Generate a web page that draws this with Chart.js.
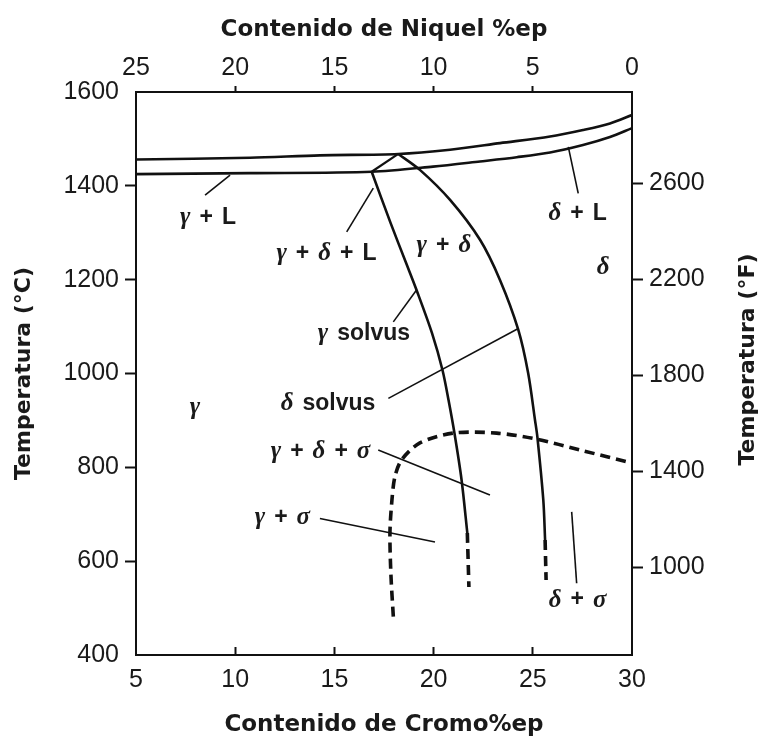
<!DOCTYPE html>
<html lang="es">
<head>
<meta charset="utf-8">
<title>Diagrama Fe-Cr-Ni</title>
<script src="https://cdn.jsdelivr.net/npm/chart.js@4.4.1/dist/chart.umd.min.js"></script>
<style>
  html, body { margin: 0; padding: 0; background: #fff; }
  #wrap { width: 765px; height: 742px; }
</style>
</head>
<body>
<div id="wrap"><canvas id="chart" width="765" height="742"></canvas></div>
<script>
// ====== EJES ======
const crTicks = [5, 10, 15, 20, 25, 30];
const niTicks = [25, 20, 15, 10, 5, 0];
const tempCTicks = [400, 600, 800, 1000, 1200, 1400, 1600];
const tempFTicks = [1000, 1400, 1800, 2200, 2600];
const tempFRange = [634, 2982];

// ====== CURVAS (%Cr, ºC) ======
const liquidusCr = [5, 10.75, 14.27, 18.22, 20.83, 23.35, 25.87, 27.53, 28.89, 30];
const liquidusT = [1456, 1460, 1465, 1468, 1477, 1491, 1505, 1519, 1533, 1551];

const solidusCr = [5, 10.75, 16.88, 19.97, 22.34, 24.19, 25.87, 27.53, 28.89, 30];
const solidusT = [1425, 1427, 1430, 1441, 1452, 1461, 1471, 1487, 1504, 1523];

// tramo entre los dos vértices del triángulo γ + δ + L
const tieCr = [16.88, 18.22];
const tieT = [1430, 1468];

const gammaSolvusCr = [16.88, 17.83, 18.61, 19.14, 19.92, 20.45, 20.75, 21.05, 21.41, 21.70];
const gammaSolvusT = [1430, 1321, 1236, 1178, 1086, 1007, 944, 873, 773, 660];
const gammaSolvusDashCr = [21.70, 21.78];
const gammaSolvusDashT = [660, 545];

const deltaSolvusCr = [18.22, 19.31, 20.83, 22.34, 23.35, 24.27, 24.77, 25.11, 25.23, 25.53, 25.62];
const deltaSolvusT = [1468, 1434, 1370, 1285, 1199, 1093, 1000, 901, 865, 730, 645];
const deltaSolvusDashCr = [25.62, 25.67];
const deltaSolvusDashT = [645, 560];

const sigmaCr = [17.97, 17.85, 17.80, 17.90, 18.05, 18.39, 19.31, 20.98, 23.18, 25.20, 27.38, 30];
const sigmaT = [482, 570, 660, 730, 780, 816, 852, 873, 873, 860, 837, 809];

// líneas guía de las etiquetas: [Cr1, Cr2], [T1, T2]
const leaderCr = [
  [8.48, 9.74], [15.62, 16.96], [17.97, 19.14], [17.72, 24.27],
  [27.29, 26.79], [17.21, 22.84], [14.27, 20.07], [26.96, 27.21]
];
const leaderT = [
  [1380, 1423], [1302, 1395], [1110, 1178], [947, 1096],
  [1384, 1483], [837, 741], [691, 641], [705, 553]
];

// ====== ETIQUETAS DE FASES ======
const phaseText = ['γ + L', 'γ + δ + L', 'γ + δ', 'δ + L', 'δ', 'γ solvus', 'δ solvus', 'γ', 'γ + δ + σ', 'γ + σ', 'δ + σ'];
const phaseCr = [8.63, 14.60, 20.52, 27.26, 28.54, 16.49, 14.68, 7.97, 14.30, 12.38, 27.26];
const phaseT = [1332, 1256, 1272, 1341, 1225, 1085, 936, 928, 834, 692, 517];

// ====== ESTILO ======
const INK = '#111';
const TEXT = '#1a1a1a';
const greekFont = 'italic bold 25px "Liberation Serif"';
const sansFont = 'bold 23px "Liberation Sans"';
const tickFont = { family: 'Liberation Sans', size: 25 };
const titleFont = { family: 'DejaVu Sans', size: 23, weight: 'bold' };
const sideTitleFont = { family: 'DejaVu Sans', size: 22, weight: 'bold' };

function pts(xs, ys) {
  return xs.map((x, i) => ({ x, y: ys[i] }));
}

function curve(xs, ys, extra = {}) {
  return Object.assign({
    data: pts(xs, ys),
    showLine: true,
    borderColor: INK,
    borderWidth: 2.6,
    pointRadius: 0,
    tension: 0.3,
    fill: false,
  }, extra);
}

const dashed = { borderDash: [10, 6], borderWidth: 3.6 };

const datasets = [
  curve(liquidusCr, liquidusT),
  curve(solidusCr, solidusT),
  curve(tieCr, tieT, { borderWidth: 2.2, tension: 0 }),
  curve(gammaSolvusCr, gammaSolvusT),
  curve(gammaSolvusDashCr, gammaSolvusDashT, dashed),
  curve(deltaSolvusCr, deltaSolvusT),
  curve(deltaSolvusDashCr, deltaSolvusDashT, dashed),
  curve(sigmaCr, sigmaT, dashed),
];
leaderCr.forEach((xs, i) => {
  datasets.push(curve(xs, leaderT[i], { borderWidth: 1.6, tension: 0 }));
});

// oculta la marca de tick en las esquinas del marco
function cornerTick(edges) {
  return (ctx) => (ctx.tick && edges.includes(ctx.tick.value)) ? 'rgba(0,0,0,0)' : INK;
}

// ====== PLUGIN: etiquetas y título derecho ======
const labelsPlugin = {
  id: 'phaseLabels',
  afterDatasetsDraw(chart) {
    const { ctx, scales } = chart;
    const gap = 9;
    ctx.save();
    ctx.fillStyle = TEXT;
    ctx.textBaseline = 'middle';
    ctx.textAlign = 'left';
    phaseText.forEach((txt, i) => {
      const parts = txt.split(' ');
      const fonts = parts.map(p => /[γδσ]/.test(p) ? greekFont : sansFont);
      const widths = parts.map((p, j) => { ctx.font = fonts[j]; return ctx.measureText(p).width; });
      const total = widths.reduce((a, b) => a + b, 0) + gap * (parts.length - 1);
      let x = scales.x.getPixelForValue(phaseCr[i]) - total / 2;
      const y = scales.y.getPixelForValue(phaseT[i]);
      parts.forEach((p, j) => {
        ctx.font = fonts[j];
        ctx.fillText(p, x, y);
        x += widths[j] + gap;
      });
    });

    // título del eje ºF, leído de abajo hacia arriba
    const area = chart.chartArea;
    ctx.translate(748, (area.top + area.bottom) / 2 - 14);
    ctx.rotate(-Math.PI / 2);
    ctx.textAlign = 'center';
    ctx.font = `bold ${sideTitleFont.size}px "${sideTitleFont.family}"`;
    ctx.fillText('Temperatura (°F)', 0, 0);
    ctx.restore();
  }
};

new Chart(document.getElementById('chart'), {
  type: 'scatter',
  data: { datasets },
  options: {
    responsive: false,
    animation: false,
    devicePixelRatio: 1,
    layout: { padding: 0 },
    plugins: {
      legend: { display: false },
      tooltip: { enabled: false },
    },
    events: [],
    scales: {
      x: {
        type: 'linear',
        position: 'bottom',
        min: 5,
        max: 30,
        afterBuildTicks: (s) => { s.ticks = crTicks.map(v => ({ value: v })); },
        afterFit: (s) => { s.height = 87; },
        ticks: { color: TEXT, font: tickFont, padding: 18, maxRotation: 0, callback: (v) => String(v) },
        grid: { drawOnChartArea: false, tickLength: -8, tickWidth: 2, tickColor: cornerTick([5, 30]) },
        border: { display: true, color: INK, width: 2 },
        title: { display: true, text: 'Contenido de Cromo%ep', color: TEXT, font: titleFont, padding: { bottom: 3 } },
      },
      x2: {
        type: 'linear',
        position: 'top',
        display: true,
        reverse: true,
        min: 0,
        max: 25,
        afterBuildTicks: (s) => { s.ticks = niTicks.map(v => ({ value: v })); },
        afterFit: (s) => { s.height = 92; },
        ticks: { color: TEXT, font: tickFont, padding: 3, maxRotation: 0, callback: (v) => String(v) },
        grid: { drawOnChartArea: false, tickLength: 6, tickWidth: 2, tickColor: cornerTick([0, 25]) },
        border: { display: true, color: INK, width: 2 },
        title: { display: true, text: 'Contenido de Niquel %ep', color: TEXT, font: titleFont, padding: { top: 16 } },
      },
      y: {
        type: 'linear',
        position: 'left',
        min: 400,
        max: 1600,
        afterBuildTicks: (s) => { s.ticks = tempCTicks.map(v => ({ value: v })); },
        afterFit: (s) => { s.width = 136; },
        ticks: { color: TEXT, font: tickFont, padding: 6, callback: (v) => String(v) },
        grid: { drawOnChartArea: false, tickLength: 11, tickWidth: 2, tickColor: cornerTick([400, 1600]) },
        border: { display: true, color: INK, width: 2 },
        title: { display: true, text: 'Temperatura (°C)', color: TEXT, font: sideTitleFont, padding: { top: 11 } },
      },
      y2: {
        type: 'linear',
        position: 'right',
        display: true,
        min: tempFRange[0],
        max: tempFRange[1],
        afterBuildTicks: (s) => { s.ticks = tempFTicks.map(v => ({ value: v })); },
        afterFit: (s) => { s.width = 133; },
        ticks: { color: TEXT, font: tickFont, padding: 6, callback: (v) => String(v) },
        grid: { drawOnChartArea: false, tickLength: 11, tickWidth: 2, tickColor: INK },
        border: { display: true, color: INK, width: 2 },
      },
    },
  },
  plugins: [labelsPlugin],
});
</script>
</body>
</html>
